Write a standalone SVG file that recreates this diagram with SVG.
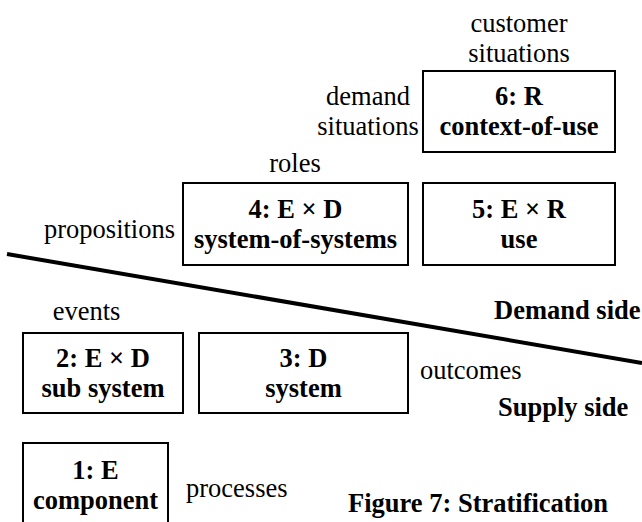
<svg xmlns="http://www.w3.org/2000/svg" width="642" height="522" viewBox="0 0 642 522" font-family="'Liberation Serif', 'Times New Roman', 'DejaVu Serif', serif" font-size="26.5">
<style>
text{fill:#000}
.b{font-weight:bold;text-anchor:middle}
.m{text-anchor:middle}
.bl{font-weight:bold}
.box{fill:#fff;stroke:#000;stroke-width:2}
</style>
<rect x="0" y="0" width="642" height="522" fill="#fff"/>
<g id="connectors">
<line x1="7" y1="254" x2="642" y2="363" stroke="#000" stroke-width="4"/>
</g>
<g id="node6">
<rect class="box" x="423" y="71" width="192" height="81"/>
<text class="b" x="519" y="105">6: R</text>
<text class="b" x="519" y="135">context-of-use</text>
</g>
<g id="node4">
<rect class="box" x="183" y="183" width="225" height="82"/>
<text class="b" x="295.5" y="218">4: E × D</text>
<text class="b" x="295.5" y="248">system-of-systems</text>
</g>
<g id="node5">
<rect class="box" x="423" y="183" width="192" height="82"/>
<text class="b" x="519" y="218">5: E × R</text>
<text class="b" x="519" y="248">use</text>
</g>
<g id="node2">
<rect class="box" x="23" y="333" width="160" height="80"/>
<text class="b" x="103" y="367">2: E × D</text>
<text class="b" x="103" y="397">sub system</text>
</g>
<g id="node3">
<rect class="box" x="199" y="333" width="209" height="80"/>
<text class="b" x="303.5" y="367">3: D</text>
<text class="b" x="303.5" y="397">system</text>
</g>
<g id="node1">
<rect class="box" x="23" y="443" width="145" height="90"/>
<text class="b" x="95.5" y="479">1: E</text>
<text class="b" x="95.5" y="509">component</text>
</g>
<g id="labels">
<text class="m" x="519" y="32">customer</text>
<text class="m" x="519" y="62">situations</text>
<text class="m" x="368" y="105">demand</text>
<text class="m" x="368" y="135">situations</text>
<text class="m" x="295" y="172">roles</text>
<text x="44" y="238">propositions</text>
<text class="m" x="86.5" y="320">events</text>
<text x="420" y="379">outcomes</text>
<text x="186" y="497">processes</text>
<text class="bl" x="494" y="319">Demand side</text>
<text class="bl" x="498" y="416">Supply side</text>
<text class="bl" x="348" y="512">Figure 7: Stratification</text>
</g>
</svg>
